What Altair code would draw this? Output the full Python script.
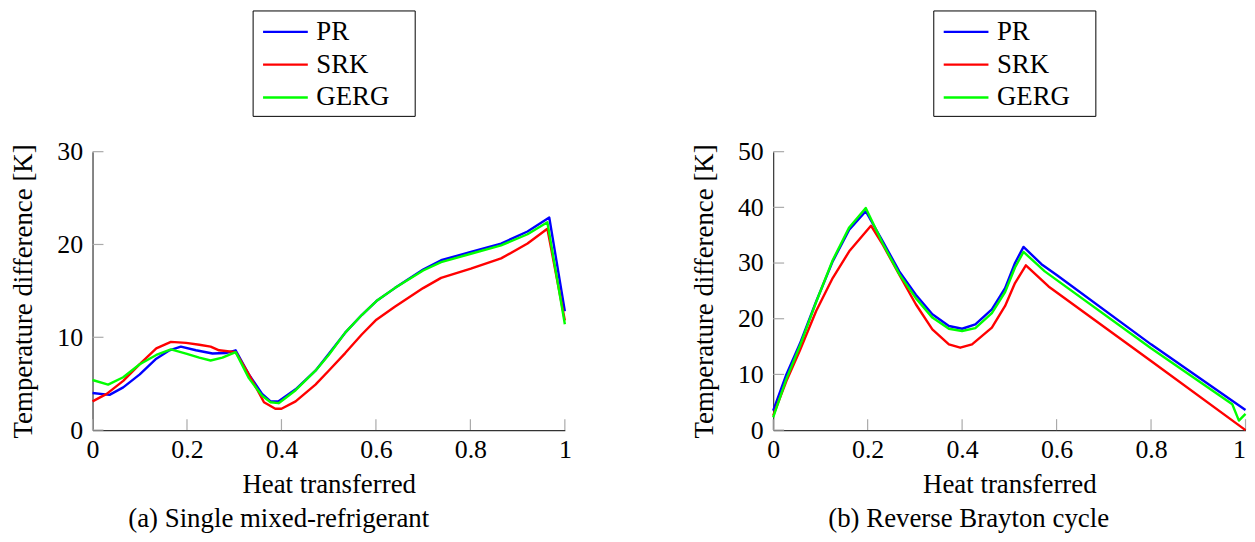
import altair as alt
import pandas as pd

# ---------------- data: (a) Single mixed-refrigerant ----------------
a_pr_x = [0, 0.036, 0.065, 0.1, 0.135, 0.163, 0.187, 0.219, 0.254, 0.282, 0.303, 0.331, 0.359, 0.377, 0.394,
          0.43, 0.472, 0.5, 0.535, 0.57, 0.601, 0.64, 0.7, 0.738, 0.801, 0.865, 0.921, 0.967, 1.0]
a_pr_y = [4.0, 3.8, 4.6, 6.0, 7.7, 8.6, 9.0, 8.6, 8.25, 8.3, 8.6, 6.0, 3.9, 3.1, 3.1,
          4.4, 6.4, 8.2, 10.5, 12.4, 13.9, 15.3, 17.3, 18.3, 19.2, 20.1, 21.4, 22.9, 12.8]

a_srk_x = [0, 0.03, 0.065, 0.1, 0.135, 0.166, 0.198, 0.226, 0.25, 0.268, 0.303, 0.331, 0.363, 0.387, 0.4,
           0.43, 0.472, 0.5, 0.535, 0.57, 0.601, 0.64, 0.7, 0.738, 0.801, 0.865, 0.921, 0.963, 1.0]
a_srk_y = [3.1, 3.9, 5.3, 7.1, 8.8, 9.5, 9.4, 9.2, 9.0, 8.6, 8.4, 6.0, 3.0, 2.3, 2.3,
           3.1, 4.9, 6.4, 8.3, 10.3, 11.9, 13.3, 15.3, 16.4, 17.4, 18.5, 20.1, 21.7, 11.8]

a_gerg_x = [0, 0.033, 0.065, 0.1, 0.135, 0.166, 0.198, 0.226, 0.25, 0.275, 0.303, 0.331, 0.359, 0.377, 0.394,
            0.43, 0.472, 0.5, 0.535, 0.57, 0.601, 0.64, 0.7, 0.738, 0.801, 0.865, 0.921, 0.963, 1.0]
a_gerg_y = [5.4, 4.9, 5.7, 7.1, 8.1, 8.7, 8.25, 7.8, 7.5, 7.8, 8.4, 5.6, 3.7, 3.0, 2.9,
            4.3, 6.4, 8.1, 10.5, 12.4, 13.9, 15.3, 17.2, 18.1, 19.0, 19.9, 21.1, 22.4, 11.4]

# ---------------- data: (b) Reverse Brayton cycle ----------------
b_pr_x = [0, 0.028, 0.056, 0.091, 0.126, 0.161, 0.196, 0.232, 0.267, 0.302, 0.337, 0.372, 0.4,
          0.428, 0.463, 0.491, 0.512, 0.53, 0.568, 0.601, 0.8, 1.0]
b_pr_y = [3.5, 10.0, 15.4, 23.1, 30.3, 36.0, 39.3, 33.9, 28.5, 24.3, 20.8, 18.7, 18.2,
          19.0, 21.7, 25.5, 30.0, 32.9, 29.8, 27.8, 15.4, 3.6]

b_srk_x = [0, 0.028, 0.056, 0.091, 0.126, 0.161, 0.207, 0.232, 0.267, 0.302, 0.337, 0.372, 0.396,
           0.421, 0.463, 0.491, 0.512, 0.535, 0.583, 0.8, 1.0]
b_srk_y = [2.6, 8.8, 14.2, 21.4, 27.3, 32.1, 36.7, 33.3, 27.9, 22.6, 18.1, 15.4, 14.8,
           15.4, 18.4, 22.3, 26.4, 29.6, 25.8, 12.4, 0.0]

b_gerg_x = [0, 0.028, 0.056, 0.091, 0.126, 0.161, 0.196, 0.232, 0.267, 0.302, 0.337, 0.372, 0.4,
            0.428, 0.463, 0.491, 0.512, 0.53, 0.575, 0.8, 0.972, 0.986, 1.0]
b_gerg_y = [2.3, 9.2, 15.0, 23.0, 30.5, 36.4, 39.9, 33.5, 28.0, 23.7, 20.2, 18.2, 17.8,
            18.3, 21.0, 24.8, 29.2, 32.0, 28.5, 14.7, 4.65, 1.7, 2.9]

series_names = ["PR", "SRK", "GERG"]
series_colors = ["#0000ff", "#ff0000", "#00ff00"]
x_ticks = [0, 0.2, 0.4, 0.6, 0.8, 1]
a_y_ticks = [0, 10, 20, 30]
b_y_ticks = [0, 10, 20, 30, 40, 50]
captions = ["(a) Single mixed-refrigerant", "(b) Reverse Brayton cycle"]
x_title = "Heat transferred"
y_title = "Temperature difference [K]"

FONT = "Liberation Serif"
FS = 27      # titles / legend
LFS = 26     # tick labels
W, H = 475, 280
TICK = 11


def make_df(series):
    rows = []
    for name, xs, ys in series:
        for i, (x, y) in enumerate(zip(xs, ys)):
            rows.append({"series": name, "x": x, "y": y, "i": i})
    return pd.DataFrame(rows)


def panel(series, y_ticks, caption, cap_dx, flush_last):
    df = make_df(series)
    ymax = y_ticks[-1]
    xs = alt.Scale(domain=[0, 1], nice=False, zero=False)
    ys = alt.Scale(domain=[0, ymax], nice=False)
    color = alt.Color(
        "series:N",
        scale=alt.Scale(domain=series_names, range=series_colors),
        legend=alt.Legend(
            title=None, orient="none", legendX=161, legendY=-142,
            direction="vertical", strokeColor="black", fillColor="white",
            padding=5, symbolType="M-1.5,0H1.5", symbolSize=900, symbolStrokeWidth=2.4,
            symbolOffset=11.5,
            labelFont=FONT, labelFontSize=FS, labelColor="black", labelOffset=14.5,
            labelExpr="datum.label + '\u2800'",
            rowPadding=3, cornerRadius=0,
        ),
    )
    if flush_last:
        label_align = {"condition": {"test": "datum.value == 1", "value": "right"}, "value": "center"}
    else:
        label_align = "center"
    xenc = alt.X("x:Q", scale=xs, axis=alt.Axis(
        values=x_ticks, ticks=False, grid=False, title=x_title, labelFlush=False,
        labelAlign=label_align,
        labelFont=FONT, labelFontSize=LFS, labelColor="black", labelPadding=6.5,
        labelExpr="datum.value == 0 ? '0' : datum.value == 1 ? '1' : format(datum.value, '.1f')",
        titleFont=FONT, titleFontSize=FS, titleFontWeight="normal", titleColor="black", titlePadding=9.5,
        domainColor="#333333", domainWidth=1.2))
    yenc = alt.Y("y:Q", scale=ys, axis=alt.Axis(
        values=y_ticks, ticks=False, grid=False, title=y_title, labelFlush=False,
        labelFont=FONT, labelFontSize=LFS, labelColor="black", labelPadding=10,
        titleFont=FONT, titleFontSize=FS, titleFontWeight="normal", titleColor="black", titlePadding=19,
        domainColor="#333333", domainWidth=1.2))

    xt = pd.DataFrame({"x": x_ticks})
    yt = pd.DataFrame({"y": y_ticks})
    xtick = alt.Chart(xt).mark_rule(color="#aaaaaa", strokeWidth=1.2).encode(
        x=alt.X("x:Q"), y=alt.value(H), y2=alt.value(H - TICK))
    ytick = alt.Chart(yt).mark_rule(color="#aaaaaa", strokeWidth=1.2).encode(
        y=alt.Y("y:Q"), x=alt.value(0), x2=alt.value(TICK))

    lines = []
    for k, name in enumerate(series_names):
        ln = alt.Chart(df).transform_filter(alt.datum.series == name).mark_line(
            strokeWidth=2.4, clip=False, strokeJoin="round").encode(
            x=xenc if k == 0 else alt.X("x:Q"),
            y=yenc if k == 0 else alt.Y("y:Q"),
            color=color, order="i:Q")
        lines.append(ln)
    layers = [lines[0], xtick, ytick, lines[1], lines[2]]
    return alt.layer(*layers).properties(
        width=W, height=H,
        title=alt.TitleParams(text=caption, orient="bottom", anchor="middle", frame="bounds",
                              font=FONT, fontSize=FS, fontWeight="normal", color="black",
                              offset=8, dx=cap_dx),
    )


left = panel([("PR", a_pr_x, a_pr_y), ("SRK", a_srk_x, a_srk_y), ("GERG", a_gerg_x, a_gerg_y)],
             a_y_ticks, captions[0], -12, False)
right = panel([("PR", b_pr_x, b_pr_y), ("SRK", b_srk_x, b_srk_y), ("GERG", b_gerg_x, b_gerg_y)],
              b_y_ticks, captions[1], 0, True)

chart = alt.hconcat(left, right, spacing=118.5).resolve_scale(
    x="independent", y="independent", color="independent"
).properties(
    padding={"left": 1, "top": 0, "right": 0, "bottom": 0}
).configure_view(stroke=None)

chart.save("out.html", embed_options={"renderer": "svg", "actions": False})
